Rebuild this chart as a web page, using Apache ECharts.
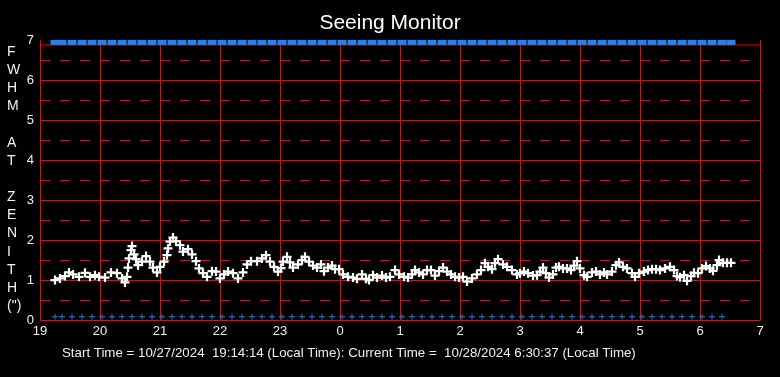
<!DOCTYPE html>
<html>
<head>
<meta charset="utf-8">
<script src="https://cdn.jsdelivr.net/npm/echarts@6/dist/echarts.min.js"></script>
<style>
  html, body { margin: 0; background: #000; }
  #chart { width: 780px; height: 377px; }
</style>
</head>
<body>
<div id="chart"></div>
<script>
// minutes after 19:00 and the seeing values
const seeingMinutes = [
  15, 20, 25, 29, 33, 39, 45, 50, 55, 59, 65, 71, 77, 82, 85, 87, 88, 89, 91, 92,
  94, 96, 98, 102, 106, 110, 113, 117,
  120, 124, 127, 128, 130, 133, 136, 140, 143, 148, 152, 156, 159, 163, 167, 172,
  176, 180, 184, 188, 193, 198, 203, 207, 211, 217, 222, 226, 230, 234, 238,
  241, 243, 247, 250, 253, 258, 262, 265, 269, 273, 277, 281, 284, 288, 292, 295,
  299, 303, 308, 313, 317, 322, 326, 329, 333, 337, 342, 346, 350, 355, 359,
  364, 368, 372, 375, 379, 383, 387, 391, 395, 399, 403, 407, 411, 415, 419, 423,
  427, 432, 437, 441, 445, 448, 452, 455, 458, 463, 467, 472, 477,
  480, 484, 488, 493, 497, 500, 503, 506, 509, 513, 516, 519, 523, 527, 531, 534,
  537, 540, 544, 547, 552, 556, 560, 564, 567, 572, 576, 579, 583, 587, 592, 595, 599,
  604, 608, 612, 616, 620, 625, 630, 634, 637, 640, 644, 647, 651, 654, 658, 662,
  666, 670, 673, 677, 679, 683, 687, 691
];
const seeingFwhm = [
  1.0, 1.04, 1.1, 1.19, 1.14, 1.08, 1.18, 1.08, 1.12, 1.08, 1.06, 1.19, 1.17, 1.04, 0.94, 1.08, 1.31, 1.54, 1.75, 1.85,
  1.64, 1.52, 1.37, 1.46, 1.6, 1.46, 1.31, 1.19,
  1.33, 1.46, 1.62, 1.79, 1.96, 2.06, 1.97, 1.87, 1.71, 1.77, 1.64, 1.47, 1.29, 1.17, 1.08, 1.22,
  1.21, 1.04, 1.14, 1.21, 1.17, 1.04, 1.19, 1.39, 1.47, 1.47, 1.54, 1.62, 1.46, 1.33, 1.21,
  1.3, 1.46, 1.58, 1.44, 1.31, 1.39, 1.5, 1.58, 1.46, 1.36, 1.31, 1.39, 1.22, 1.31, 1.36, 1.27,
  1.27, 1.14, 1.08, 1.06, 1.03, 1.14, 1.03, 1.0, 1.12, 1.06, 1.11, 1.06, 1.08, 1.25, 1.14,
  1.08, 1.06, 1.14, 1.25, 1.19, 1.14, 1.25, 1.25, 1.11, 1.22, 1.31, 1.21, 1.14, 1.08, 1.06, 1.08,
  0.96, 1.04, 1.14, 1.25, 1.42, 1.33, 1.27, 1.42, 1.52, 1.39, 1.33, 1.25, 1.14,
  1.17, 1.21, 1.17, 1.11, 1.12, 1.21, 1.31, 1.17, 1.06, 1.14, 1.31, 1.33, 1.29, 1.29, 1.25, 1.36,
  1.47, 1.29, 1.12, 1.08, 1.19, 1.21, 1.14, 1.19, 1.14, 1.21, 1.37, 1.44, 1.33, 1.29, 1.17, 1.08, 1.17,
  1.21, 1.25, 1.27, 1.27, 1.25, 1.29, 1.33, 1.25, 1.1, 1.07, 1.12, 0.98, 1.1, 1.18, 1.17, 1.29,
  1.35, 1.29, 1.23, 1.37, 1.5, 1.43, 1.43, 1.43
];
// blue markers along the bottom and the top edge
const checkMinutes = [
  15, 22, 32, 42, 52, 62, 72, 82, 92, 102, 112, 122, 132, 142, 152, 162, 172, 182,
  192, 202, 212, 222, 232, 242, 252, 262, 272, 282, 292, 302, 312, 322, 332, 342,
  352, 362, 372, 382, 392, 402, 412, 422, 432, 442, 452, 462, 472, 482, 492, 502,
  512, 522, 532, 542, 552, 562, 572, 582, 592, 602, 612, 622, 632, 642, 652, 662,
  672, 682
];
const topMinutes = checkMinutes.concat([691]);
const bottomLevel = 0.08;
const topLevel = 6.94;
const frameTop = 6.875;

const startHour = 19;
const endHour = 31;
const yMax = 7;

const titleText = 'Seeing Monitor';
const footerText = 'Start Time = 10/27/2024  19:14:14 (Local Time): Current Time =  10/28/2024 6:30:37 (Local Time)';
const yName = ['F', 'W', 'H', 'M', '', 'A', 'T', '', 'Z', 'E', 'N', 'I', 'T', 'H', '(")'];

const red = '#ff0000';
const blue = '#1a85ff';
const font = 'Liberation Sans, Arial, sans-serif';
const plusThick = 'path://M3,0h2v3h3v2h-3v3h-2v-3h-3v-2h3z';
const plusThin = 'path://M3,0h1v3h3v1h-3v3h-1v-3h-3v-1h3z';

const toHour = m => startHour + m / 60;

const chart = echarts.init(document.getElementById('chart'));

chart.setOption({
  backgroundColor: '#000',
  animation: false,
  title: {
    text: titleText,
    left: 'center',
    top: 8,
    textStyle: { color: '#fff', fontSize: 21, fontWeight: 'normal', fontFamily: font }
  },
  grid: { left: 40, right: 20, top: 40, bottom: 57 },
  xAxis: {
    type: 'value',
    min: startHour,
    max: endHour,
    interval: 1,
    axisLine: { show: true, lineStyle: { color: red, width: 1 } },
    axisTick: { show: false },
    axisLabel: {
      color: '#f0f0f0',
      fontSize: 13,
      fontFamily: font,
      margin: 5,
      formatter: v => String(v % 24)
    },
    splitLine: { show: true, lineStyle: { color: red, width: 1 } }
  },
  yAxis: {
    type: 'value',
    min: 0,
    max: yMax,
    interval: 1,
    axisLine: { show: true, lineStyle: { color: red, width: 1 } },
    axisTick: { show: false },
    axisLabel: { color: '#f0f0f0', fontSize: 13, fontFamily: font, margin: 6 },
    splitLine: { show: true, showMaxLine: false, lineStyle: { color: red, width: 1 } },
    minorTick: { show: false, splitNumber: 2 },
    minorSplitLine: { show: true, lineStyle: { color: red, width: 1, type: [10, 10] } }
  },
  graphic: [
    {
      type: 'text',
      left: 7,
      top: 43,
      style: {
        text: yName.join('\n'),
        fill: '#f0f0f0',
        font: '14px ' + font,
        lineHeight: 18.15,
        align: 'center',
        width: 16
      }
    },
    {
      type: 'text',
      left: 62,
      top: 347,
      style: { text: footerText, fill: '#f0f0f0', font: '13.3px ' + font }
    }
  ],
  series: [
    {
      // top edge of the plot frame
      name: 'frame',
      type: 'line',
      showSymbol: false,
      silent: true,
      lineStyle: { color: red, width: 1 },
      data: [[startHour, frameTop], [endHour, frameTop]],
      z: 2
    },
    {
      name: 'FWHM',
      type: 'scatter',
      symbol: plusThick,
      symbolSize: 9,
      itemStyle: { color: '#fff', opacity: 1 },
      data: seeingMinutes.map((m, i) => [toHour(m), seeingFwhm[i]]),
      z: 3
    },
    {
      name: 'bottom',
      type: 'scatter',
      symbol: plusThin,
      symbolSize: 6,
      itemStyle: { color: blue, opacity: 1 },
      data: checkMinutes.map(m => [toHour(m), bottomLevel]),
      z: 3
    },
    {
      name: 'top',
      type: 'scatter',
      symbol: 'rect',
      symbolSize: [9, 5],
      itemStyle: { color: blue, opacity: 1 },
      data: topMinutes.map(m => [toHour(m), topLevel]),
      z: 4
    }
  ]
});
</script>
</body>
</html>
